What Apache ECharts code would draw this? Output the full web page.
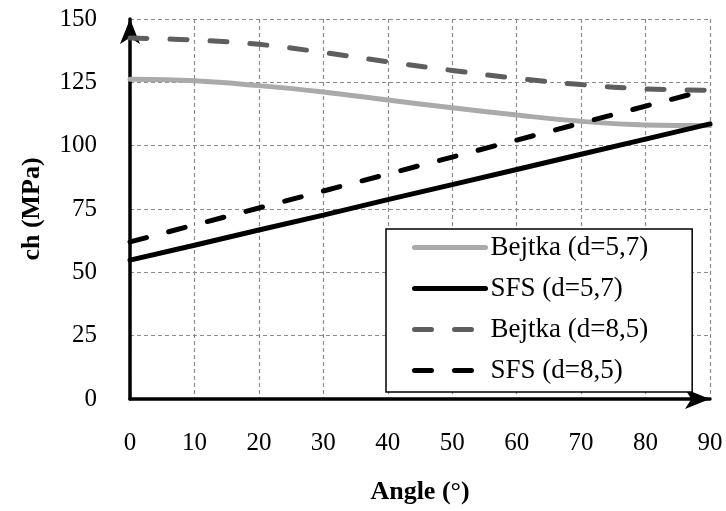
<!DOCTYPE html>
<html>
<head>
<meta charset="utf-8">
<script src="https://cdn.jsdelivr.net/npm/echarts@6/dist/echarts.min.js"></script>
<style>
html,body{margin:0;padding:0;background:#fff;}
#chart{width:726px;height:511px;}
</style>
</head>
<body>
<div id="chart"></div>
<script>
const angles = [0, 10, 20, 30, 40, 50, 60, 70, 80, 90];
const bejtka57 = [126.2, 125.6, 123.7, 121.2, 118.0, 115.0, 112.1, 109.6, 108.2, 108.0];
const sfs57 = [54.8, 60.7, 66.7, 72.6, 78.7, 84.6, 90.6, 96.6, 102.6, 108.6];
const bejtka85 = [142.5, 141.7, 140.0, 136.8, 133.1, 129.7, 126.6, 124.1, 122.4, 121.9];
const sfs85 = [62.0, 68.7, 75.4, 82.1, 88.8, 95.5, 102.2, 108.9, 115.6, 122.3];
const seriesNames = ['Bejtka (d=5,7)', 'SFS (d=5,7)', 'Bejtka (d=8,5)', 'SFS (d=8,5)'];
const xTicks = { min: 0, max: 90, interval: 10 };
const yTicks = { min: 0, max: 150, interval: 25 };

function pairs(vals) { return angles.map((a, i) => [a, vals[i]]); }

const FONT = 'Liberation Serif';
const chart = echarts.init(document.getElementById('chart'), null, { renderer: 'canvas' });

const dash = [17, 23];
const LW = 5;
chart.setOption({
  backgroundColor: '#ffffff',
  animation: false,
  grid: { left: 130, right: 16, top: 19, bottom: 112, containLabel: false },
  xAxis: {
    type: 'value', min: xTicks.min, max: xTicks.max, interval: xTicks.interval,
    name: 'Angle (°)', nameLocation: 'middle', nameGap: 80,
    nameTextStyle: { fontFamily: FONT, fontWeight: 'bold', fontSize: 26, color: '#000' },
    axisLine: { show: true, onZero: false, lineStyle: { color: '#000', width: 3.5 },
      symbol: ['none', 'arrow'], symbolSize: [15, 25], symbolOffset: [0, 0] },
    axisTick: { show: false },
    axisLabel: { fontFamily: FONT, fontSize: 25, color: '#000', margin: 32 },
    splitLine: { show: true, lineStyle: { color: '#8c8c8c', width: 1.2, type: [4, 3] } }
  },
  yAxis: {
    type: 'value', min: yTicks.min, max: yTicks.max, interval: yTicks.interval,
    name: 'ch (MPa)', nameLocation: 'middle', nameGap: 85,
    nameTextStyle: { fontFamily: FONT, fontWeight: 'bold', fontSize: 26, color: '#000' },
    axisLine: { show: true, onZero: false, lineStyle: { color: '#000', width: 3.5 },
      symbol: ['none', 'arrow'], symbolSize: [15, 25], symbolOffset: [0, 0] },
    axisTick: { show: false },
    axisLabel: { fontFamily: FONT, fontSize: 25, color: '#000', margin: 33 },
    splitLine: { show: true, lineStyle: { color: '#8c8c8c', width: 1.2, type: [4, 3] } }
  },
  legend: {
    orient: 'vertical', left: 386, top: 229,
    padding: [5, 44, 8, 26],
    itemWidth: 71, itemHeight: 14, itemGap: 14,
    backgroundColor: '#fff', borderColor: '#000', borderWidth: 1.5, borderRadius: 0,
    itemStyle: { opacity: 0 },
    lineStyle: { width: LW, cap: 'round' },
    textStyle: { fontFamily: FONT, fontSize: 27, color: '#000', lineHeight: 26 },
    data: seriesNames
  },
  series: [
    { name: seriesNames[0], type: 'line', data: pairs(bejtka57), symbol: 'none', smooth: 0.4,
      lineStyle: { color: '#aaaaaa', width: LW, cap: 'round' }, itemStyle: { color: '#aaaaaa' } },
    { name: seriesNames[1], type: 'line', data: pairs(sfs57), symbol: 'none',
      lineStyle: { color: '#000000', width: LW, cap: 'round' }, itemStyle: { color: '#000000' } },
    { name: seriesNames[2], type: 'line', data: pairs(bejtka85), symbol: 'none', smooth: 0.4,
      lineStyle: { color: '#5e5e5e', width: LW, type: dash, cap: 'round' }, itemStyle: { color: '#5e5e5e' } },
    { name: seriesNames[3], type: 'line', data: pairs(sfs85), symbol: 'none',
      lineStyle: { color: '#000000', width: LW, type: dash, cap: 'round' }, itemStyle: { color: '#000000' } }
  ]
});
</script>
</body>
</html>
